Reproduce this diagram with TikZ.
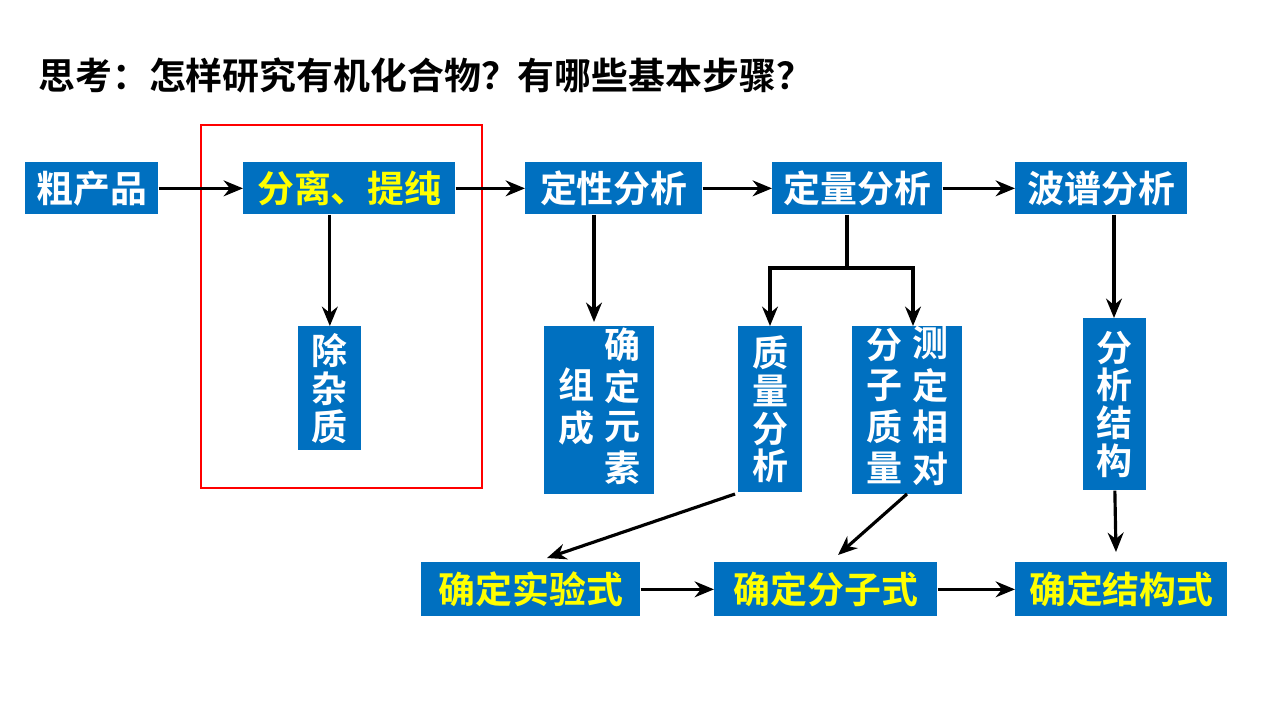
\documentclass[tikz,border=0pt]{standalone}
\usepackage{fontspec}
\setmainfont{Noto Sans CJK SC}[BoldFont={Noto Sans CJK SC Bold}]
\usetikzlibrary{arrows.meta}
\definecolor{boxblue}{RGB}{0,112,192}
\definecolor{txtyellow}{RGB}{255,255,0}
\tikzset{
  stepbox/.style={fill=boxblue, text=white, font=\bfseries\fontsize{21}{24}\selectfont, inner sep=0pt, anchor=north west},
  vstepbox/.style={stepbox, align=center, font=\bfseries\fontsize{20.5}{21.5}\selectfont},
  arr/.style={draw, line width=1.8pt, -{Stealth[length=11pt,width=9pt]}}
}
\begin{document}
\begin{tikzpicture}[x=0.02cm,y=-0.02cm]
\useasboundingbox (0,0) rectangle (1279,720);
\node[anchor=west, inner sep=0pt, font=\bfseries\fontsize{21}{24}\selectfont] (title) at (38,75) {思考：怎样研究有机化合物？有哪些基本步骤？};
\draw[red, line width=1.5pt] (201,125) rectangle (482,488);

\node[stepbox, minimum width=133*0.02cm, minimum height=52*0.02cm] (crude) at (25,162) {粗产品};
\node[stepbox, text=txtyellow, minimum width=212*0.02cm, minimum height=52*0.02cm] (sep) at (243,162) {分离、提纯};
\node[stepbox, minimum width=177*0.02cm, minimum height=52*0.02cm] (qual) at (525,162) {定性分析};
\node[stepbox, minimum width=170*0.02cm, minimum height=52*0.02cm] (quan) at (772,162) {定量分析};
\node[stepbox, minimum width=172*0.02cm, minimum height=52*0.02cm] (spec) at (1015,162) {波谱分析};

\node[vstepbox, minimum width=63*0.02cm, minimum height=124*0.02cm] (impur) at (298,326) {除\\杂\\质};
\node[vstepbox, minimum width=110*0.02cm, minimum height=168*0.02cm] (elem) at (544,326) {\begin{tabular}{@{}c@{\hspace{6pt}}c@{}}\begin{tabular}{@{}c@{}}组\\成\end{tabular} & \begin{tabular}{@{}c@{}}确\\定\\元\\素\end{tabular}\end{tabular}};
\node[vstepbox, minimum width=64*0.02cm, minimum height=166*0.02cm] (mass) at (738,326) {质\\量\\分\\析};
\node[vstepbox, minimum width=110*0.02cm, minimum height=168*0.02cm] (mol) at (852,326) {\begin{tabular}{@{}c@{\hspace{6pt}}c@{}}\begin{tabular}{@{}c@{}}分\\子\\质\\量\end{tabular} & \begin{tabular}{@{}c@{}}测\\定\\相\\对\end{tabular}\end{tabular}};
\node[vstepbox, minimum width=63*0.02cm, minimum height=172*0.02cm] (struc) at (1083,318) {分\\析\\结\\构};

\node[stepbox, text=txtyellow, minimum width=219*0.02cm, minimum height=54*0.02cm] (emp) at (421,562) {确定实验式};
\node[stepbox, text=txtyellow, minimum width=223*0.02cm, minimum height=54*0.02cm] (formula) at (714,562) {确定分子式};
\node[stepbox, text=txtyellow, minimum width=212*0.02cm, minimum height=54*0.02cm] (sform) at (1015,562) {确定结构式};

\coordinate (qualend) at (594,322);
\coordinate (split) at (847,268);
\coordinate (massend) at (770,326);
\coordinate (molend) at (913,326);
\coordinate (specend) at (1114,318);
\coordinate (strucend) at (1116,552);
\coordinate (massfrom) at (735,494);
\coordinate (empend) at (547,558);
\coordinate (molfrom) at (907,494);
\coordinate (formend) at (838,555);

\path[arr] (crude) -- (sep);
\path[arr] (sep) -- (qual);
\path[arr] (qual) -- (quan);
\path[arr] (quan) -- (spec);
\path[arr] (sep.south -| impur) -- (impur);
\path[arr] (qual.south -| qualend) -- (qualend);
\draw[line width=1.8pt] (quan.south -| split) -- (split);
\path[arr] (split) -| (massend);
\path[arr] (split) -| (molend);
\path[arr] (spec.south -| specend) -- (specend);
\path[arr] (struc.south) -- (strucend);
\path[arr] (massfrom) -- (empend);
\path[arr] (molfrom) -- (formend);
\path[arr] (emp) -- (formula);
\path[arr] (formula) -- (sform);
\end{tikzpicture}
\end{document}
